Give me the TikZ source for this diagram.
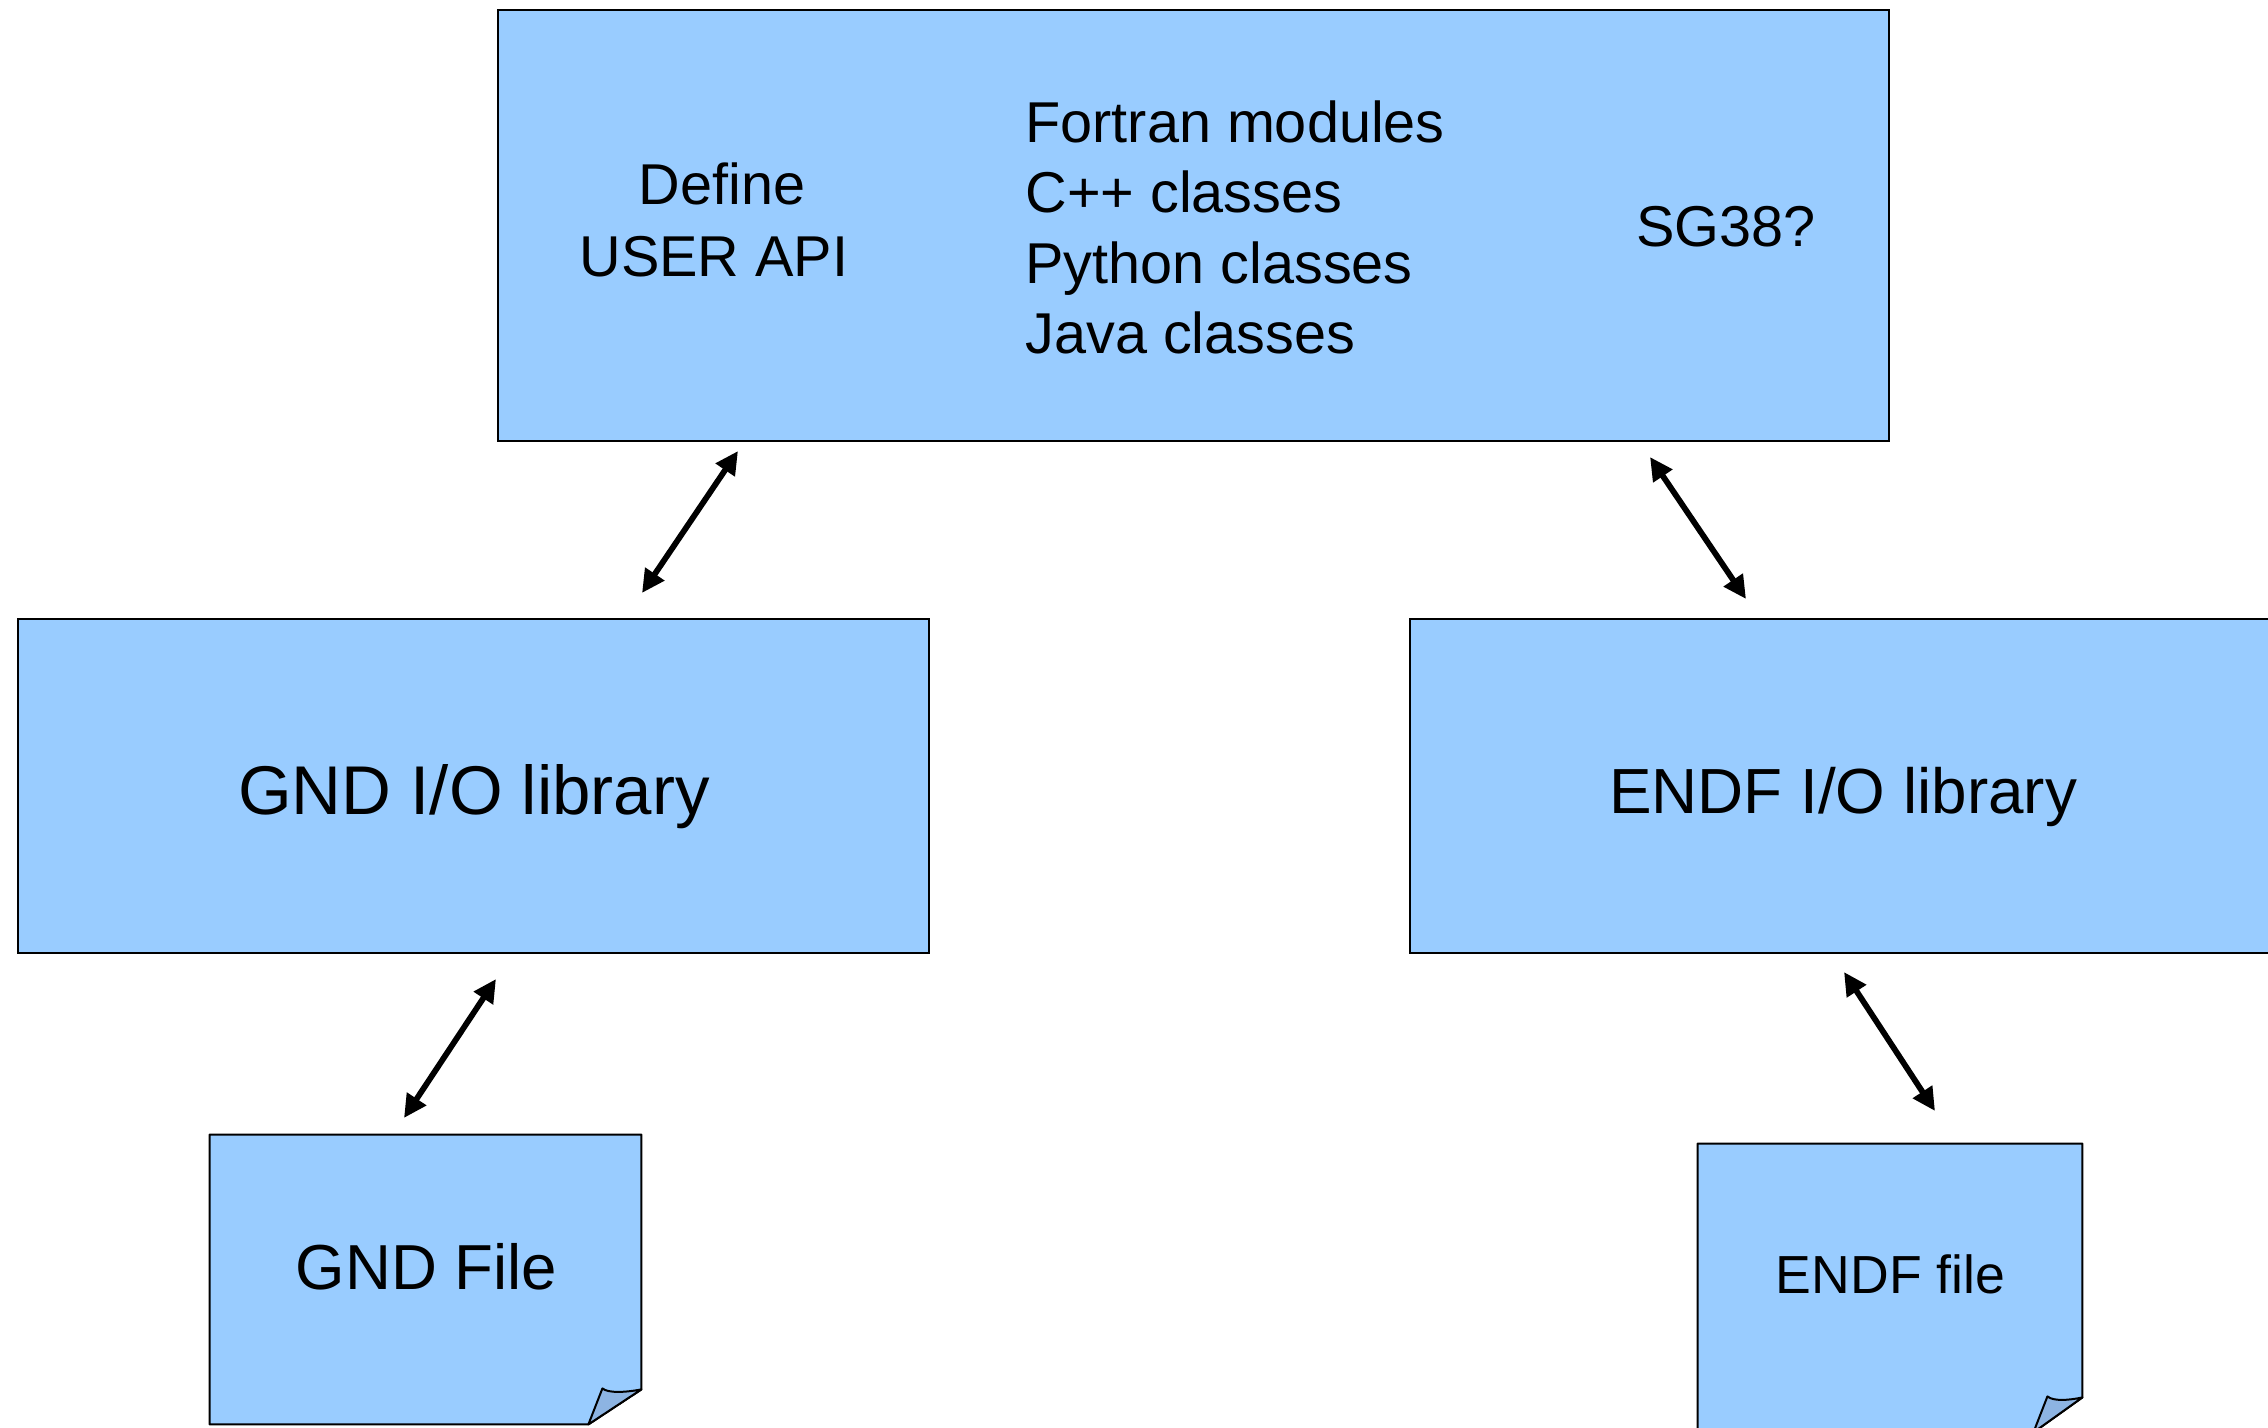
\documentclass[tikz,border=0pt]{standalone}
\usepackage{fontspec}
\setmainfont{Liberation Sans}
\usetikzlibrary{arrows.meta,calc}
\definecolor{boxblue}{RGB}{153,204,255}
\definecolor{foldblue}{RGB}{141,180,226}
\begin{document}
\begin{tikzpicture}[x=0.5pt,y=-0.5pt,
  box/.style={draw=black,fill=boxblue,line width=1pt,rectangle,inner sep=0pt},
  frame/.style={draw=none,rectangle,inner sep=0pt},
  note/.style={draw=black,fill=boxblue,line width=1pt,line join=round},
  fold/.style={draw=black,fill=foldblue,line width=1pt,line join=round},
  lbl/.style={inner sep=0pt,text=black},
  toptext/.style={lbl,font=\fontsize{28.8}{34}\selectfont},
  link/.style={line width=2.9pt,{Triangle[length=11.5pt,width=11pt]}-{Triangle[length=11.5pt,width=11pt]}}]
\useasboundingbox (0,0) rectangle (2268,1428);
\clip (0,0) rectangle (2268,1428);

% boxes
\node[box,minimum width=695.5pt,minimum height=215.5pt] (api) at (1193.5,225.5) {};
\node[box,minimum width=455.5pt,minimum height=167pt] (gndlib) at (473.5,786) {};
\node[box,minimum width=445pt,minimum height=167pt] (endflib) at (1855,786) {};

% note shapes (files)
\node[frame,minimum width=215.5pt,minimum height=144.5pt] (gndfile) at (425.5,1279.5) {};
\draw[note] (gndfile.north west) -- (gndfile.north east) -- ($(gndfile.south east)+(0,-35)$)
  -- ($(gndfile.south east)+(-53,0)$) -- (gndfile.south west) -- cycle;
\draw[fold] ($(gndfile.south east)+(-39,-36)$) .. controls ($(gndfile.south east)+(-33,-31)$) and ($(gndfile.south east)+(-16,-32)$) .. ($(gndfile.south east)+(0,-35)$)
  -- ($(gndfile.south east)+(-53,0)$) -- cycle;

\node[frame,minimum width=192pt,minimum height=144pt] (endffile) at (1890,1288) {};
\draw[note] (endffile.north west) -- (endffile.north east) -- ($(endffile.south east)+(0,-35)$)
  -- ($(endffile.south east)+(-49,0)$) -- (endffile.south west) -- cycle;
\draw[fold] ($(endffile.south east)+(-35,-36)$) .. controls ($(endffile.south east)+(-29,-31)$) and ($(endffile.south east)+(-14,-32)$) .. ($(endffile.south east)+(0,-35)$)
  -- ($(endffile.south east)+(-49,0)$) -- cycle;

% texts
\node[toptext,anchor=base] (def1) at (722,205) {Define};
\node[toptext,anchor=base] (def2) at (714,277) {USER API};
\node[toptext,anchor=base west] (l1) at (1025,143) {Fortran modules};
\node[toptext,anchor=base west] (l2) at (1025,213) {C++ classes};
\node[toptext,anchor=base west] (l3) at (1025,284) {Python classes};
\node[toptext,anchor=base west] (l4) at (1025,354) {Java classes};
\node[toptext,anchor=base] (sg) at (1726,247) {SG38?};
\node[lbl,anchor=base,font=\fontsize{34.5}{40}\selectfont] (gndtxt) at (474,814) {GND I/O library};
\node[lbl,anchor=base,font=\fontsize{31.9}{38}\selectfont] (endftxt) at (1843,813) {ENDF I/O library};
\node[lbl,anchor=base,font=\fontsize{31.8}{38}\selectfont] (gftxt) at (426.5,1289) {GND File};
\node[lbl,anchor=base,font=\fontsize{26.8}{32}\selectfont] (eftxt) at (1890.5,1293) {ENDF file};

% connectors
\coordinate (a1s) at (738,451);  \coordinate (a1e) at (642,593);
\coordinate (a2s) at (1650,457); \coordinate (a2e) at (1746,599);
\coordinate (a3s) at (496,979);  \coordinate (a3e) at (404,1118);
\coordinate (a4s) at (1844,972); \coordinate (a4e) at (1935,1111);
\draw[link] (a1s) -- (a1e);
\draw[link] (a2s) -- (a2e);
\draw[link] (a3s) -- (a3e);
\draw[link] (a4s) -- (a4e);
\end{tikzpicture}
\end{document}
